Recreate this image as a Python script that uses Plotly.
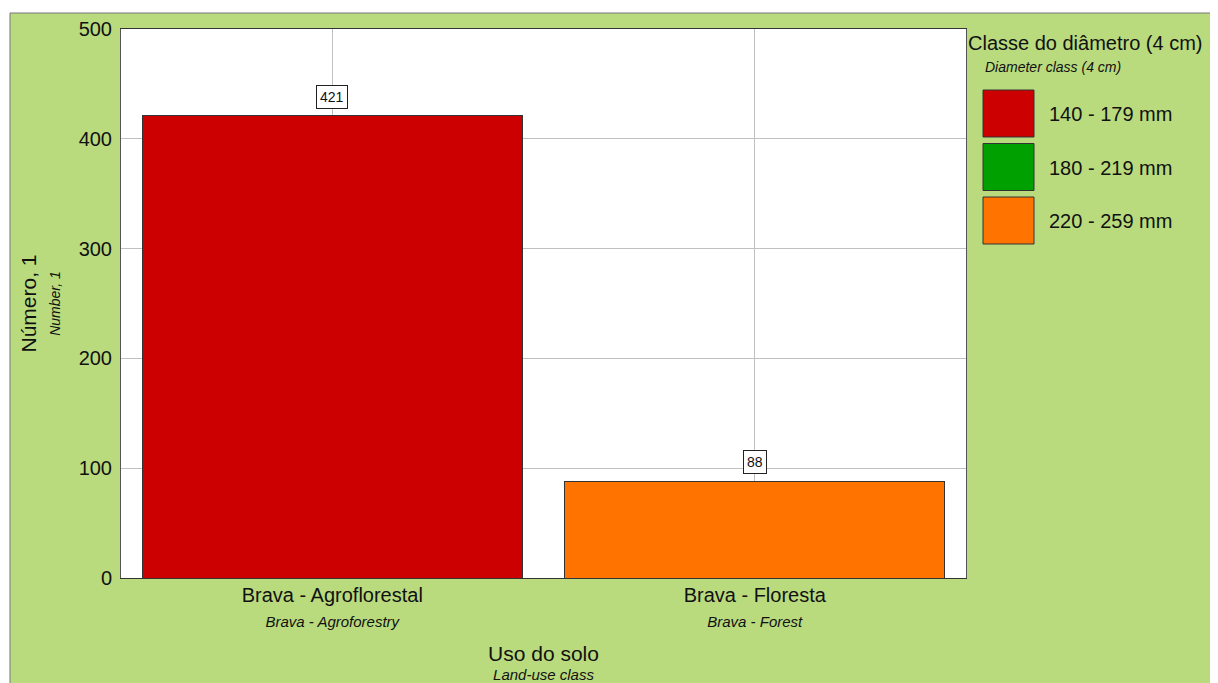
import plotly.graph_objects as go

# ---- data ----
categories = ["Brava - Agroflorestal", "Brava - Floresta"]
categories_en = ["Brava - Agroforestry", "Brava - Forest"]
series_names = ["140 - 179 mm", "180 - 219 mm", "220 - 259 mm"]
series_colors = ["#CC0000", "#00A000", "#FF7300"]
s_140_179 = [421, None]
s_180_219 = [None, None]
s_220_259 = [None, 88]
series_values = [s_140_179, s_180_219, s_220_259]
y_ticks = [0, 100, 200, 300, 400, 500]

OFF = 8  # page body margin
W, H = 1218 - OFF, 683 - OFF
L, R, T, B = 121 - OFF, 966 - OFF, 29 - OFF, 578 - OFF  # plot area in figure px
PW, PH = R - L, B - T

def px(x):  # screen px -> paper
    return (x - OFF - L) / PW

def py(y):
    return (B - (y - OFF)) / PH

FONT = "Liberation Sans, Arial, sans-serif"
GREEN = "#B9DB7E"
TXT = "#111111"

fig = go.Figure()
annotations = []
for name, color, vals in zip(series_names, series_colors, series_values):
    fig.add_trace(go.Bar(
        x=categories, y=vals, name=name,
        marker=dict(color=color, line=dict(color="#333333", width=1)),
        width=0.9, showlegend=False,
    ))
    for c, v in zip(categories, vals):
        if v is not None:
            annotations.append(dict(
                x=c, y=v, xref="x", yref="y", text=str(v), showarrow=False,
                yanchor="bottom", yshift=7, bgcolor="white",
                bordercolor="#222222", borderwidth=1, borderpad=3,
                font=dict(family=FONT, size=14, color=TXT),
            ))

ticktext = [f"<span style='font-size:20px'>{c}</span><br><i><span style='font-size:15px'>{e}</span></i>"
            for c, e in zip(categories, categories_en)]

shapes = [
    dict(type="rect", xref="paper", yref="paper",
         x0=px(10), x1=px(1260), y0=py(720), y1=py(13),
         fillcolor=GREEN, line=dict(color="#777777", width=1), layer="below"),
    dict(type="rect", xref="paper", yref="paper", x0=0, x1=1, y0=0, y1=1,
         fillcolor="white", line=dict(width=0), layer="below"),
]
annotations += [
    dict(xref="paper", yref="paper", x=px(966), y=py(43), xanchor="left",
         yanchor="middle", showarrow=False, text="Classe do diâmetro (4 cm)",
         font=dict(family=FONT, size=20, color=TXT)),
    dict(xref="paper", yref="paper", x=px(983), y=py(67), xanchor="left",
         yanchor="middle", showarrow=False, text="<i>Diameter class (4 cm)</i>",
         font=dict(family=FONT, size=14, color=TXT)),
]
for i, (name, color) in enumerate(zip(series_names, series_colors)):
    top = 90 + i * 53.5
    shapes.append(dict(type="rect", xref="paper", yref="paper",
                       x0=px(983), x1=px(1034), y0=py(top + 47), y1=py(top),
                       fillcolor=color, line=dict(color="#333333", width=1)))
    annotations.append(dict(xref="paper", yref="paper", x=px(1047),
                            y=py(top + 24), xanchor="left", yanchor="middle",
                            showarrow=False, text=name,
                            font=dict(family=FONT, size=20, color=TXT)))

fig.update_layout(
    width=W, height=H,
    margin=dict(l=L, r=W - R, t=T, b=H - B, pad=0, autoexpand=False),
    paper_bgcolor="white", plot_bgcolor="rgba(0,0,0,0)",
    barmode="stack", bargap=0.1,
    font=dict(family=FONT, size=20, color=TXT),
    shapes=shapes, annotations=annotations,
    showlegend=False,
)
fig.update_xaxes(
    tickvals=categories, ticktext=ticktext, automargin=False,
    showgrid=True, gridcolor="#C0C0C0", gridwidth=1,
    showline=True, linecolor="#333333", linewidth=1, mirror=True,
    ticks="", tickfont=dict(family=FONT, size=19, color=TXT),
    title=dict(text="<span style='font-size:21px'>Uso do solo</span><br><i>Land-use class</i>",
               font=dict(family=FONT, size=15, color=TXT), standoff=22),
)
fig.update_yaxes(
    range=[0, 500], tickvals=y_ticks, automargin=False,
    showgrid=True, gridcolor="#C0C0C0", gridwidth=1, zeroline=False,
    showline=True, linecolor="#555555", linewidth=1, mirror=True,
    ticks="", ticklabelstandoff=4, tickfont=dict(family=FONT, size=20, color=TXT),
    title=dict(text="<span style='font-size:21px'>Número, 1</span><br><i><span style='font-size:14px'>Number, 1</span></i>",
               font=dict(family=FONT, size=19, color=TXT), standoff=12),
)

fig.write_html("out.html", post_script="document.body.style.overflow='hidden';")
